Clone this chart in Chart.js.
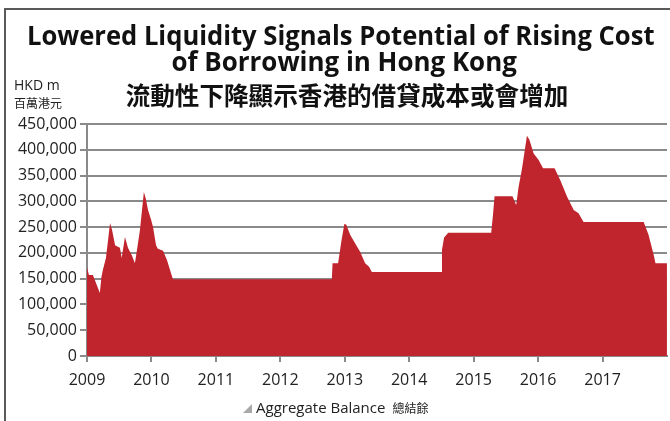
<!DOCTYPE html>
<html>
<head>
<meta charset="utf-8">
<script src="https://cdn.jsdelivr.net/npm/chart.js@4"></script>
<style>
  body { margin: 0; background: #fff; }
  #wrap { position: relative; width: 670px; height: 421px; overflow: hidden; }
  #frameTop { position: absolute; left: 4px; top: 8px; width: 666px; height: 2px; background: #5a5a5a; }
  #frameLeft { position: absolute; left: 4px; top: 8px; width: 2px; height: 413px; background: #5a5a5a; }
  .t { position: absolute; white-space: nowrap; color: #111; }
  .en { font-family: "Open Sans", sans-serif; font-weight: 700; font-size: 26px; transform-origin: center center; }
  #t1 { top: 17px; }
  #t2 { top: 43px; }
  #t3 { top: 76px; left: 0; width: 694px; text-align: center; font-family: "Noto Sans CJK TC", sans-serif; font-weight: 700; font-size: 24.6px; }
  #unit1 { left: 14px; top: 75px; font-family: "Open Sans", sans-serif; font-size: 14px; color: #222; }
  #unit2 { left: 14px; top: 94px; font-family: "Noto Sans CJK TC", sans-serif; font-size: 12px; color: #222; }
  #legend { position: absolute; left: 243px; top: 397px; font-family: "Open Sans", sans-serif; font-size: 15px; color: #222; white-space: nowrap; }
  #legend .tri { display: inline-block; width: 0; height: 0; border-left: 9px solid transparent; border-bottom: 9px solid #a8a8a8; margin-right: 4px; vertical-align: 0px; }
  #legend .zh { font-family: "Noto Sans CJK TC", sans-serif; font-size: 12px; margin-left: 7px; }
  canvas { position: absolute; left: 0; top: 0; }
</style>
</head>
<body>
<div id="wrap">
  <canvas id="myChart" width="670" height="421"></canvas>
  <div id="frameTop"></div>
  <div id="frameLeft"></div>
  <div class="t en" id="t1">Lowered Liquidity Signals Potential of Rising Cost</div>
  <div class="t en" id="t2">of Borrowing in Hong Kong</div>
  <div class="t" id="t3">流動性下降顯示香港的借貸成本或會增加</div>
  <div class="t" id="unit1">HKD m</div>
  <div class="t" id="unit2">百萬港元</div>
  <div id="legend"><span class="tri"></span>Aggregate Balance<span class="zh">總結餘</span></div>
</div>
<script>
// Aggregate balance, HKD m
var dates = [
  '2009-01-01', '2009-01-06', '2009-01-12', '2009-02-04', '2009-03-13', '2009-03-22', '2009-03-30',
  '2009-04-17', '2009-05-10', '2009-05-21', '2009-06-08', '2009-06-24', '2009-07-05', '2009-07-15',
  '2009-08-03', '2009-08-20', '2009-09-12', '2009-09-29', '2009-10-10', '2009-10-27', '2009-11-19',
  '2009-11-30', '2009-12-12', '2009-12-29', '2010-01-10', '2010-01-27', '2010-02-07', '2010-03-06',
  '2010-03-17', '2010-03-28', '2010-04-15', '2010-05-01', '2012-10-19', '2012-10-23', '2012-11-24',
  '2012-12-11', '2012-12-29', '2013-01-09', '2013-02-01', '2013-02-28', '2013-03-27', '2013-04-25',
  '2013-05-17', '2013-06-02', '2014-06-30', '2014-07-04', '2014-07-16', '2014-08-09', '2015-04-09',
  '2015-04-19', '2015-04-28', '2015-08-08', '2015-08-29', '2015-09-12', '2015-10-01', '2015-10-29',
  '2015-11-12', '2015-12-06', '2016-01-04', '2016-01-29', '2016-04-03', '2016-05-05', '2016-06-13',
  '2016-07-20', '2016-08-17', '2016-09-15', '2017-08-21', '2017-09-18', '2017-10-17', '2017-10-27',
  '2017-12-31'
];
var balance = [
  172000, 165000, 157000, 157000, 122000, 153000, 167000,
  190000, 258000, 245000, 215000, 212000, 210000, 190000,
  231000, 210000, 195000, 180000, 205000, 244000, 318000,
  305000, 283000, 265000, 250000, 215000, 208000, 204000,
  195000, 186000, 167000, 149000, 149000, 180000, 180000,
  220000, 256000, 255000, 235000, 219000, 202000, 180000,
  173000, 163000, 163000, 206000, 230000, 239000, 239000,
  273000, 310000, 310000, 293000, 328000, 363000, 427000,
  420000, 393000, 380000, 364000, 364000, 341000, 309000,
  283000, 277000, 260000, 260000, 235000, 196000, 180000,
  180000
];
var yearTicks = ['2009', '2010', '2011', '2012', '2013', '2014', '2015', '2016', '2017'];

function toYear(s) {
  var p = s.split('-');
  return parseInt(p[0]) + (parseInt(p[1]) - 1) / 12 + (parseInt(p[2]) - 1) / 365;
}

var points = dates.map(function(d, i) { return { x: toYear(d), y: balance[i] }; });

var grey = '#8a8a8a';
var tickFont = { family: '"Open Sans", sans-serif', size: 16 };

var canvas  = document.getElementById('myChart');
var context = canvas.getContext('2d');

var myChart = new Chart(context, {
    type: 'line',
    data: {
        datasets: [{
            label: 'Aggregate Balance',
            data: points,
            backgroundColor: 'rgb(192, 36, 45)',
            borderWidth: 0,
            pointRadius: 0,
            fill: 'origin',
            tension: 0
        }]
    },
    options: {
        responsive: false,
        animation: false,
        layout: { padding: { left: 4, top: 124, right: 3, bottom: 30 } },
        plugins: { legend: { display: false }, tooltip: { enabled: false } },
        scales: {
            x: {
                type: 'linear',
                min: 2009,
                max: 2018,
                afterFit: function(s) { s.height = 35; },
                afterBuildTicks: function(s) {
                    s.ticks = yearTicks.map(function(y) { return { value: parseInt(y) }; });
                },
                ticks: {
                    color: '#222',
                    font: tickFont,
                    padding: 9,
                    maxRotation: 0,
                    autoSkip: false,
                    callback: function(v) { return String(v); }
                },
                grid: { drawOnChartArea: false, color: grey, lineWidth: 2, tickLength: 6 },
                border: { color: grey, width: 2 }
            },
            y: {
                min: 0,
                max: 450000,
                afterFit: function(s) { s.width = 83; },
                ticks: {
                    stepSize: 50000,
                    color: '#222',
                    font: tickFont,
                    padding: 3,
                    callback: function(v) { return v.toLocaleString('en-US'); }
                },
                grid: { color: grey, lineWidth: 2, tickLength: 7 },
                border: { color: grey, width: 2 }
            }
        }
    }
});

// squeeze the English title lines to the width of the original
function fit(id, width, centre) {
    var el = document.getElementById(id);
    var w = el.offsetWidth;
    var k = width / w;
    el.style.left = (centre - w / 2) + 'px';
    el.style.transform = 'scaleX(' + k + ')';
}
fit('t1', 628, 341);
fit('t2', 345, 344);
</script>
</body>
</html>
